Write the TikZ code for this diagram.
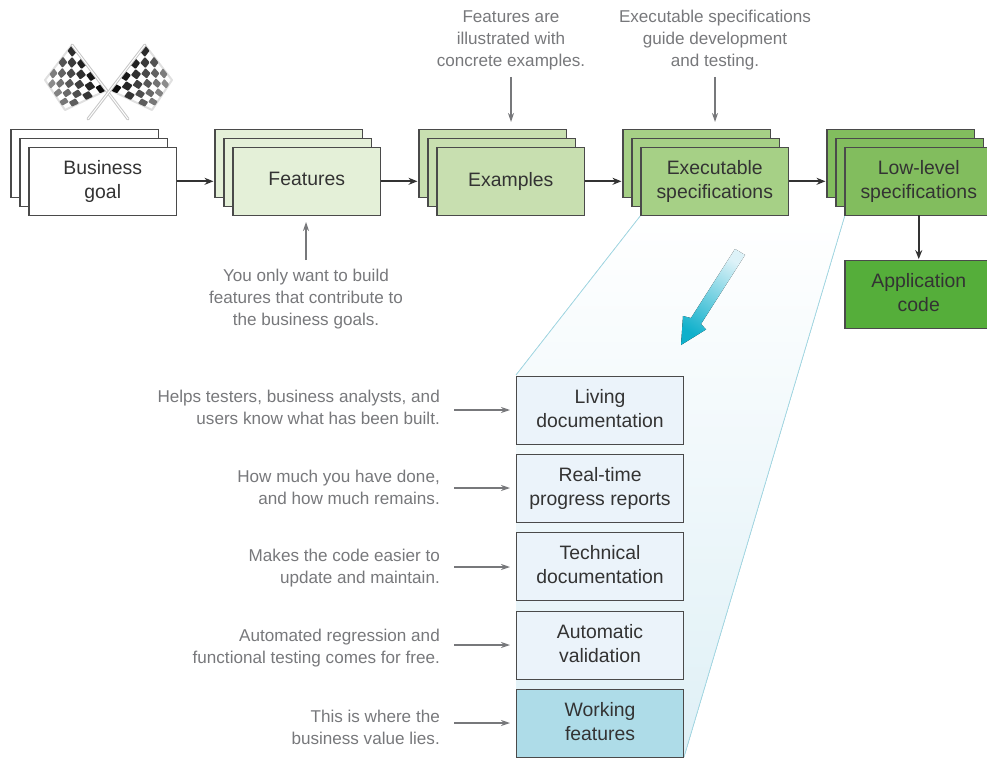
\documentclass[tikz,border=0pt]{standalone}
\usepackage{fontspec}
\setmainfont{Liberation Sans}
\usetikzlibrary{arrows.meta,calc}
\definecolor{edgegray}{HTML}{4A4A4A}
\definecolor{txtdark}{HTML}{333333}
\definecolor{txtgray}{HTML}{77787B}
\definecolor{fWhite}{HTML}{FFFFFF}
\definecolor{fA}{HTML}{E4F0D8}
\definecolor{fB}{HTML}{C8DFB0}
\definecolor{fC}{HTML}{A6D086}
\definecolor{fD}{HTML}{82BD5E}
\definecolor{fE}{HTML}{55AE3A}
\definecolor{fDoc}{HTML}{EBF3FA}
\definecolor{fWork}{HTML}{AEDCE8}
\definecolor{cyanedge}{HTML}{A3DAE6}
\definecolor{panelblue}{HTML}{DFF0F6}
\definecolor{arrowcyan}{HTML}{0FB0CB}
\definecolor{arrowpale}{HTML}{DDF2F8}
\tikzset{
  x=1pt,y=-1pt,
  card/.style={draw=edgegray,line width=1.3pt,outer sep=0pt,anchor=north west,minimum width=147.5pt,minimum height=68pt,inner sep=0pt,font=\fontsize{19.4}{24.3}\selectfont,text=txtdark,align=center},
  doc/.style={card,minimum width=167.5pt},
  note/.style={font=\fontsize{17.1}{22}\selectfont,text=txtgray,inner sep=0pt},
  flow/.style={draw=txtdark,line width=1.8pt,shorten >=1.5pt,-{Stealth[length=9pt,width=7pt]}},
  hint/.style={draw=txtgray,line width=1.2pt,-{Stealth[length=9pt,width=6pt]}},
}
\newcommand{\stackcards}[5]{% name, x, y, fill, text
  \node[card,fill=#4] (#1b) at (#2,#3) {};
  \node[card,fill=#4] at ($(#2,#3)+(9,9)$) {};
  \node[card,fill=#4] (#1) at ($(#2,#3)+(18,18)$) {#5\vphantom{p}};
}
% point of a left-hand flag at (s,t), s along the pole, t across; #3 = 0 left flag, 1 mirrored
\newcommand{\flagpt}[3]{%
  \pgfmathsetmacro{\px}{(1-(#2))*(72+35*(#1))+(#2)*(45+20*(#1))}%
  \pgfmathsetmacro{\py}{(1-(#2))*(45+45*(#1))+(#2)*(80+30*(#1))}%
  \ifnum#3=1 \pgfmathsetmacro{\px}{217-\px}\fi
}
\newcommand{\flagcells}[1]{%
  \foreach \i in {0,...,6}{\foreach \j in {0,...,5}{
    \pgfmathtruncatemacro{\ok}{mod(\i+\j,2)}
    \ifnum\ok=0
      \pgfmathtruncatemacro{\sh}{95-\j*8-(6-\i)*2}
      \pgfmathsetmacro{\sa}{\i/7}\pgfmathsetmacro{\sb}{(\i+1)/7}
      \pgfmathsetmacro{\ta}{\j/6}\pgfmathsetmacro{\tb}{(\j+1)/6}
      \flagpt{\sa}{\ta}{#1}\edef\xa{\px}\edef\ya{\py}
      \flagpt{\sb}{\ta}{#1}\edef\xb{\px}\edef\yb{\py}
      \flagpt{\sb}{\tb}{#1}\edef\xc{\px}\edef\yc{\py}
      \flagpt{\sa}{\tb}{#1}\edef\xd{\px}\edef\yd{\py}
      \fill[black!\sh,rounded corners=.8pt] (\xa,\ya) -- (\xb,\yb) -- (\xc,\yc) -- (\xd,\yd) -- cycle;
    \fi
  }}
}
\begin{document}
\begin{tikzpicture}
\useasboundingbox (0,0) rectangle (987,757);
% zoom panel
\fill[top color=white,bottom color=panelblue] (641,215) -- (845,215) -- (684,757) -- (516,757) -- (516,375) -- cycle;
\draw[cyanedge,line width=.8pt] (641,215) -- (516,375);
\draw[cyanedge,line width=.8pt] (845,215) -- (684,757);
% big arrow
\fill[top color=arrowpale,bottom color=arrowcyan,shading angle=-32]
  (735,249) -- (745,255) -- (701,324) -- (706,329.5) -- (681,345) -- (683,316) -- (691,318) -- cycle;
% flags
\fill[white,draw=black!12,line width=2pt,line join=round] (72,45) -- (107,90) -- (65,110) -- (45,80) -- cycle;
\fill[white,draw=black!12,line width=2pt,line join=round] (145,45) -- (110,90) -- (152,110) -- (172,80) -- cycle;
\flagcells{0}
\flagcells{1}
\draw[black!22,line width=3pt,line cap=round] (72,45) -- (128,119);
\draw[white,line width=1pt] (72,45) -- (128,119);
\draw[black!22,line width=3pt,line cap=round] (145,45) -- (88,119);
\draw[white,line width=1pt] (145,45) -- (88,119);
% stacks
\stackcards{goal}{11}{129.3}{fWhite}{Business\\goal}
\stackcards{feat}{215}{129.3}{fA}{Features}
\stackcards{ex}{419}{129.3}{fB}{Examples}
\stackcards{spec}{623}{129.3}{fC}{Executable\\specifications}
\stackcards{low}{827}{129.3}{fD}{Low-level\\specifications}
\node[card,fill=fE] (app) at (845,260.6) {Application\\code\vphantom{p}};
% doc boxes
\node[doc,fill=fDoc] (d1) at (516.3,376.4) {Living\\documentation\vphantom{p}};
\node[doc,fill=fDoc] (d2) at (516.3,454.6) {Real-time\\progress reports\vphantom{p}};
\node[doc,fill=fDoc] (d3) at (516.3,532.6) {Technical\\documentation\vphantom{p}};
\node[doc,fill=fDoc] (d4) at (516.3,611.4) {Automatic\\validation\vphantom{p}};
\node[doc,fill=fWork] (d5) at (516.3,689.4) {Working\\features\vphantom{p}};
% flow
\draw[flow] (goal.east) -- (goal.east -| featb.west);
\draw[flow] (feat.east) -- (feat.east -| exb.west);
\draw[flow] (ex.east) -- (ex.east -| specb.west);
\draw[flow] (spec.east) -- (spec.east -| lowb.west);
\draw[flow] (low.south) -- (app.north);
% top notes
\node[note,align=center,anchor=north] (n1) at (511,11) {Features are\\illustrated with\\concrete examples.};
\node[note,align=center,anchor=north] (n2) at (715,10) {Executable specifications\\guide development\\and testing.};
\node[note,align=center,anchor=north] (n3) at (306,269) {You only want to build\\features that contribute to\\the business goals.};
\coordinate (n1e) at (511,77);
\coordinate (n2e) at (715,77);
\coordinate (n3e) at (306,260);
\draw[hint] (n1e) -- (511,122);
\draw[hint] (n2e) -- (715,122);
\draw[hint] (n3e) -- (306,222);
% side notes
\node[note,align=right,anchor=east] (s1) at (440,407) {Helps testers, business analysts, and\\users know what has been built.};
\node[note,align=right,anchor=east] (s2) at (440,487) {How much you have done,\\and how much remains.};
\node[note,align=right,anchor=east] (s3) at (440,568) {Makes the code easier to\\update and maintain.};
\node[note,align=right,anchor=east] (s4) at (440,648) {Automated regression and\\functional testing comes for free.};
\node[note,align=right,anchor=east] (s5) at (440,727.5) {This is where the\\business value lies.};
\foreach \k/\yy in {1/410,2/488,3/567,4/645,5/723}{
  \coordinate (a\k) at (454,\yy);
  \coordinate (b\k) at (510,\yy);
  \draw[hint] (a\k) -- (b\k);
}
\end{tikzpicture}
\end{document}
